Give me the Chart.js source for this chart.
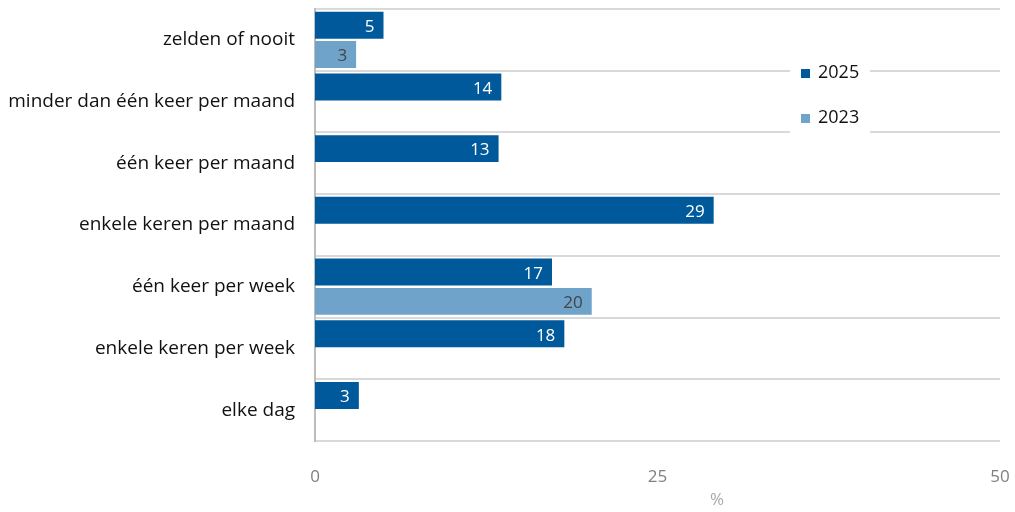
<!DOCTYPE html>
<html>
<head>
<meta charset="utf-8">
<script src="https://cdn.jsdelivr.net/npm/chart.js@4.4.1/dist/chart.umd.min.js"></script>
<style>
  html, body { margin: 0; padding: 0; background: #fff; }
  #wrap { width: 1015px; height: 512px; }
</style>
</head>
<body>
<div id="wrap"><canvas id="chart" width="1015" height="512"></canvas></div>
<script>
// --- data ---
const categories = [
  'zelden of nooit',
  'minder dan één keer per maand',
  'één keer per maand',
  'enkele keren per maand',
  'één keer per week',
  'enkele keren per week',
  'elke dag'
];
const values2025 = [5.0, 13.6, 13.4, 29.1, 17.3, 18.2, 3.2];
const values2023 = [3.0, null, null, null, 20.2, null, null];
const xTicks = [0, 25, 50];

const COLOR_2025 = '#00599B';
const COLOR_2023 = '#6FA3C9';
const FONT = "'Open Sans', sans-serif";

// value labels inside the bar ends
const barLabels = {
  id: 'barLabels',
  afterDatasetsDraw(chart) {
    const ctx = chart.ctx;
    ctx.save();
    ctx.font = '17px ' + FONT;
    ctx.textAlign = 'right';
    ctx.textBaseline = 'middle';
    chart.data.datasets.forEach((ds, i) => {
      const meta = chart.getDatasetMeta(i);
      meta.data.forEach((bar, j) => {
        const v = ds.data[j];
        if (v == null) return;
        ctx.fillStyle = ds.labelColor;
        ctx.fillText(String(Math.round(v)), bar.x - 9, bar.y + 2);
      });
    });
    ctx.restore();
  }
};

// legend on a white box inside the plot
const boxLegend = {
  id: 'boxLegend',
  afterDraw(chart) {
    const ctx = chart.ctx;
    ctx.save();
    ctx.fillStyle = '#fff';
    ctx.fillRect(790, 50, 80, 86);
    ctx.font = '18px ' + FONT;
    ctx.textAlign = 'left';
    ctx.textBaseline = 'middle';
    chart.data.datasets.forEach((ds, i) => {
      const y = 73 + i * 45;
      ctx.fillStyle = ds.backgroundColor;
      ctx.fillRect(801, y - 4, 9, 9);
      ctx.fillStyle = '#111';
      ctx.fillText(ds.label, 818, y);
    });
    // axis unit
    ctx.font = '17px ' + FONT;
    ctx.fillStyle = '#aaa';
    ctx.textAlign = 'center';
    ctx.fillText('%', 717, 500);
    ctx.restore();
  }
};

new Chart(document.getElementById('chart'), {
  type: 'bar',
  data: {
    labels: categories,
    datasets: [
      { label: '2025', data: values2025, backgroundColor: COLOR_2025, labelColor: '#fff',
        categoryPercentage: 0.95, barPercentage: 0.92 },
      { label: '2023', data: values2023, backgroundColor: COLOR_2023, labelColor: '#444',
        categoryPercentage: 0.95, barPercentage: 0.92 }
    ]
  },
  options: {
    indexAxis: 'y',
    responsive: false,
    animation: false,
    layout: { padding: { top: 9, right: 15, left: 0, bottom: 0 } },
    plugins: {
      legend: { display: false },
      tooltip: { enabled: false }
    },
    scales: {
      x: {
        min: 0,
        max: 50,
        afterBuildTicks: (s) => { s.ticks = xTicks.map(v => ({ value: v })); },
        grid: { display: false },
        border: { display: false },
        ticks: { color: '#808080', font: { family: FONT, size: 17 }, padding: 18 },
        afterFit: (s) => { s.height = 71; s.paddingLeft = 0; s.paddingRight = 0; }
      },
      y: {
        grid: { color: '#d9d9d9', lineWidth: 2, offset: true, drawTicks: false },
        border: { display: true, color: '#bdbdbd', width: 2 },
        ticks: { color: '#111', font: { family: FONT, size: 19 }, padding: 20 },
        afterFit: (s) => { s.width = 315; s.paddingTop = 0; s.paddingBottom = 0; }
      }
    }
  },
  plugins: [barLabels, boxLegend]
});
</script>
</body>
</html>
